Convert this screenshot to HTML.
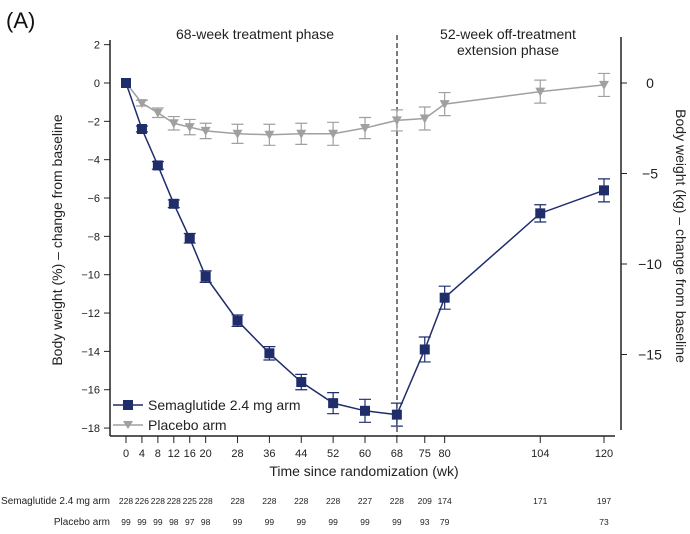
<!DOCTYPE html>
<html><head><meta charset="utf-8"><style>
body{margin:0;background:#fff;}
svg{display:block;font-family:"Liberation Sans",sans-serif;}
</style></head><body>
<svg id="chart" width="690" height="534" viewBox="0 0 690 534">
<text x="6" y="28" font-size="22" fill="#111">(A)</text>
<text x="255" y="39" font-size="14" text-anchor="middle" fill="#222">68-week treatment phase</text>
<text x="508" y="39" font-size="14" text-anchor="middle" fill="#222">52-week off-treatment</text>
<text x="508" y="55" font-size="14" text-anchor="middle" fill="#222">extension phase</text>
<g id="axes"></g>
<g id="marks"></g>
<text transform="translate(62,240) rotate(-90)" font-size="14" text-anchor="middle" fill="#222">Body weight (%) – change from baseline</text>
<text transform="translate(676,236) rotate(90)" font-size="14" text-anchor="middle" fill="#222">Body weight (kg) – change from baseline</text>
<text x="364" y="476" font-size="14" text-anchor="middle" fill="#222">Time since randomization (wk)</text>
<text x="110" y="504" font-size="10" text-anchor="end" fill="#222">Semaglutide 2.4 mg arm</text>
<text x="110" y="525" font-size="10" text-anchor="end" fill="#222">Placebo arm</text>
<g>
<line x1="113" y1="405" x2="143" y2="405" stroke="#1f2d6b" stroke-width="1.5"/>
<rect x="123" y="400" width="10" height="10" fill="#1f2d6b"/>
<text x="148" y="410" font-size="14" fill="#222">Semaglutide 2.4 mg arm</text>
<line x1="113" y1="425" x2="143" y2="425" stroke="#a0a0a0" stroke-width="1.5"/>
<polygon points="123,421 133,421 128,429" fill="#a0a0a0"/>
<text x="148" y="430" font-size="14" fill="#222">Placebo arm</text>
</g>
</svg>
<script>
const weeks=[0,4,8,12,16,20,28,36,44,52,60,68,75,80,104,120];
const semaValues=[0,-2.4,-4.3,-6.3,-8.1,-10.1,-12.4,-14.1,-15.6,-16.7,-17.1,-17.3,-13.9,-11.2,-6.8,-5.6];
const semaErr=[0,0.15,0.2,0.2,0.25,0.3,0.3,0.35,0.4,0.55,0.6,0.6,0.65,0.6,0.45,0.6];
const placeboValues=[0,-1.05,-1.55,-2.1,-2.3,-2.5,-2.65,-2.7,-2.65,-2.65,-2.35,-1.95,-1.85,-1.1,-0.45,-0.1];
const placeboErr=[0,0.15,0.25,0.35,0.4,0.4,0.5,0.55,0.55,0.6,0.55,0.55,0.6,0.6,0.6,0.6];
const leftTicks=[2,0,-2,-4,-6,-8,-10,-12,-14,-16,-18];
const rightTicks=[0,-5,-10,-15];
const semaN=['228','226','228','228','225','228','228','228','228','228','227','228','209','174','171','197'];
const placeboN=['99','99','99','98','97','98','99','99','99','99','99','99','93','79','','73'];
const NS='http://www.w3.org/2000/svg';
const xS=w=>126+w*(604-126)/120;
const yS=v=>83-v*19.17;
const yR=k=>83-k*18.1;
function mk(t,a,p){const e=document.createElementNS(NS,t);for(const k in a)e.setAttribute(k,a[k]);p.appendChild(e);return e;}
const ax=document.getElementById('axes'),mg=document.getElementById('marks');
let l=mk('line',{x1:110,y1:40,x2:110,y2:436,stroke:'#222','stroke-width':1.5},ax);

l=mk('line',{x1:110,y1:436,x2:615,y2:436,stroke:'#222','stroke-width':1.5},ax);

l=mk('line',{x1:621,y1:37,x2:621,y2:430,stroke:'#222','stroke-width':1.5},ax);

l=mk('line',{x1:397,y1:35,x2:397,y2:436,stroke:'#222','stroke-width':1.2,'stroke-dasharray':'5,3'},ax);

leftTicks.forEach(v=>{mk('line',{x1:104,y1:yS(v),x2:110,y2:yS(v),stroke:'#222'},ax);
const t=mk('text',{x:100,y:yS(v)+4,'font-size':11,'text-anchor':'end',fill:'#222'},ax);t.textContent=v<0?'\u2212'+(-v):v;
});
rightTicks.forEach(v=>{mk('line',{x1:621,y1:yR(v),x2:627,y2:yR(v),stroke:'#222'},ax);
const t=mk('text',{x:650,y:yR(v)+5,'font-size':14,'text-anchor':'middle',fill:'#222'},ax);t.textContent=v<0?'\u2212'+(-v):v;
});
weeks.forEach((w,i)=>{mk('line',{x1:xS(w),y1:436,x2:xS(w),y2:443,stroke:'#222'},ax);
let t=mk('text',{x:xS(w),y:457,'font-size':11,'text-anchor':'middle',fill:'#222'},ax);t.textContent=w;

t=mk('text',{x:xS(w),y:504,'font-size':8.5,'text-anchor':'middle',fill:'#222'},ax);t.textContent=semaN[i];

t=mk('text',{x:xS(w),y:525,'font-size':8.5,'text-anchor':'middle',fill:'#222'},ax);t.textContent=placeboN[i];
});
function series(vals,errs,col,tri,name){
const p=mk('polyline',{points:weeks.map((w,i)=>xS(w)+','+yS(vals[i])).join(' '),fill:'none',stroke:col,'stroke-width':1.5},mg);

weeks.forEach((w,i)=>{const x=xS(w),y=yS(vals[i]),e=errs[i]*19.17;
if(e>0){mk('path',{d:`M${x},${y-e}V${y+e}M${x-6},${y-e}H${x+6}M${x-6},${y+e}H${x+6}`,stroke:col,'stroke-width':1.2,fill:'none'},mg);}
let m;
if(tri)m=mk('polygon',{points:`${x-5},${y-4} ${x+5},${y-4} ${x},${y+5}`,fill:col},mg);
else m=mk('rect',{x:x-5,y:y-5,width:10,height:10,fill:col},mg);
});}
series(placeboValues,placeboErr,'#a0a0a0',true,'placebo');
series(semaValues,semaErr,'#1f2d6b',false,'semaglutide');
</script>
</body></html>
